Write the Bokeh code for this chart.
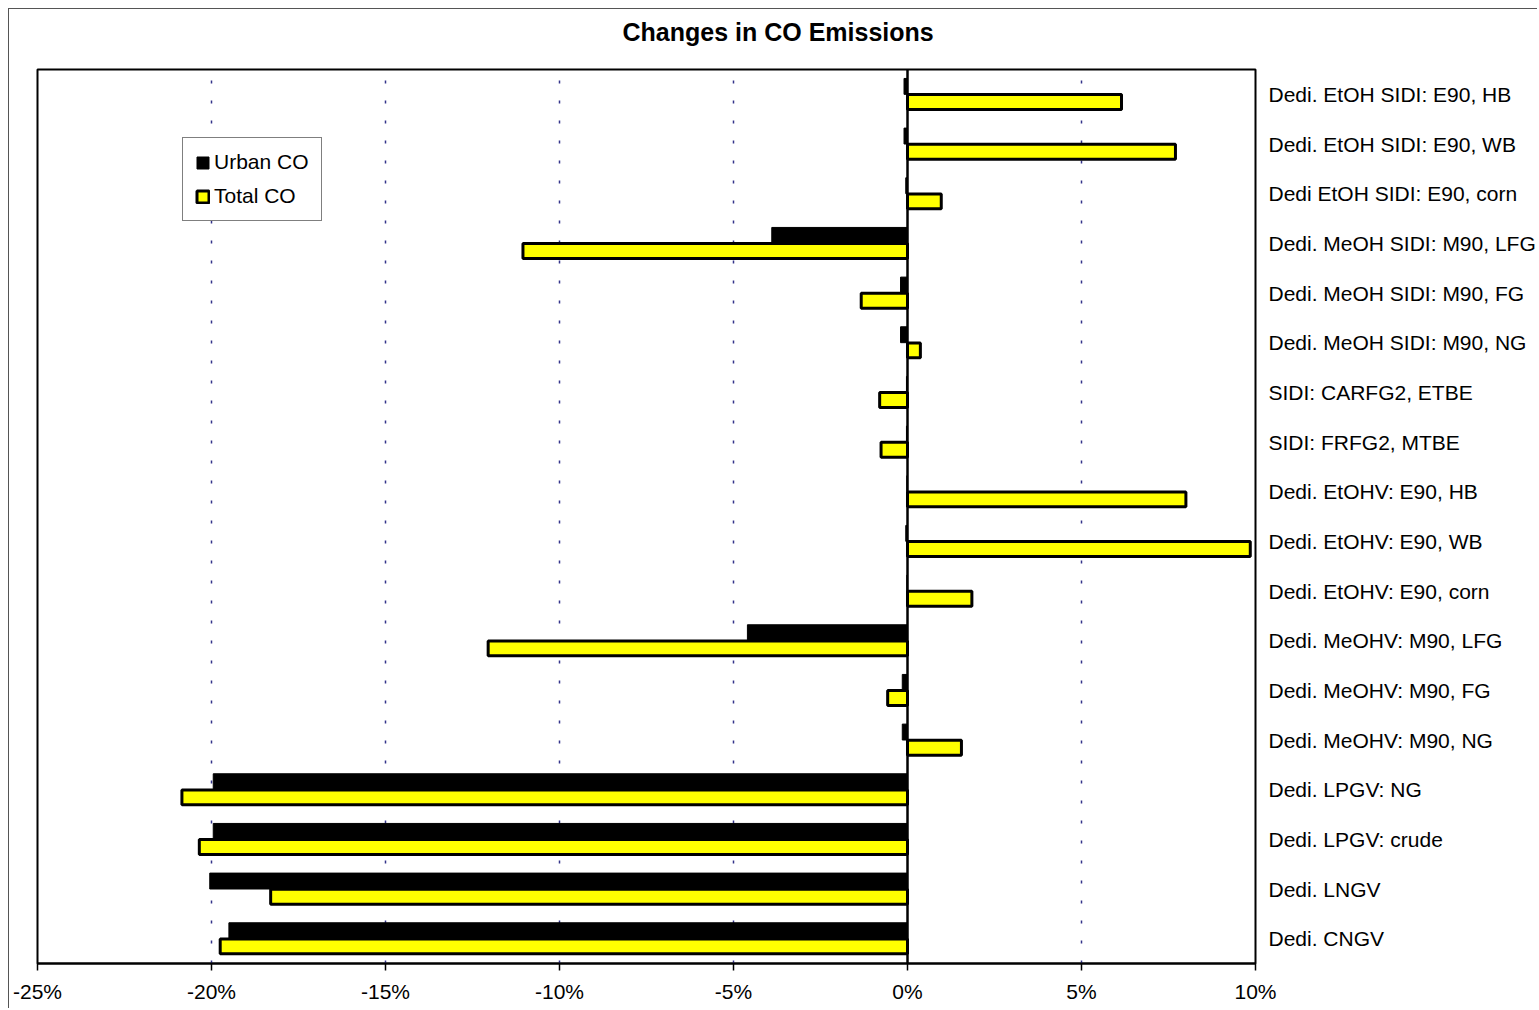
from bokeh.plotting import figure
from bokeh.models import (ColumnDataSource, FactorRange, Range1d, FixedTicker,
                          Span, Legend, LegendItem, Title)
from bokeh.transform import dodge
from bokeh.embed import file_html
from bokeh.resources import INLINE

# ---- data (top-to-bottom order as in the chart) ----
categories = [
    "Dedi. EtOH SIDI: E90, HB",
    "Dedi. EtOH SIDI: E90, WB",
    "Dedi EtOH SIDI: E90, corn",
    "Dedi. MeOH SIDI: M90, LFG",
    "Dedi. MeOH SIDI: M90, FG",
    "Dedi. MeOH SIDI: M90, NG",
    "SIDI: CARFG2, ETBE",
    "SIDI: FRFG2, MTBE",
    "Dedi. EtOHV: E90, HB",
    "Dedi. EtOHV: E90, WB",
    "Dedi. EtOHV: E90, corn",
    "Dedi. MeOHV: M90, LFG",
    "Dedi. MeOHV: M90, FG",
    "Dedi. MeOHV: M90, NG",
    "Dedi. LPGV: NG",
    "Dedi. LPGV: crude",
    "Dedi. LNGV",
    "Dedi. CNGV",
]
urban_co = [-0.10, -0.10, -0.05, -3.90, -0.20, -0.20, -0.03, -0.03, -0.02,
            -0.05, -0.02, -4.60, -0.15, -0.15, -19.95, -19.95, -20.05, -19.50]
total_co = [6.15, 7.70, 0.97, -11.05, -1.33, 0.37, -0.80, -0.76, 8.00,
            9.85, 1.85, -12.05, -0.57, 1.55, -20.85, -20.35, -18.30, -19.75]

x_ticks = [-25, -20, -15, -10, -5, 0, 5, 10]
x_tick_labels = ["-25%", "-20%", "-15%", "-10%", "-5%", "0%", "5%", "10%"]
grid_ticks = [-20, -15, -10, -5, 5]

series_names = ["Urban CO", "Total CO"]
title_text = "Changes in CO Emissions"

FONT = "Liberation Sans"

src = ColumnDataSource(dict(cat=categories, urban=urban_co, total=total_co))

p = figure(width=1529, height=1000,
           y_range=FactorRange(factors=list(reversed(categories))),
           x_range=Range1d(-25, 10),
           y_axis_location="right",
           output_backend="svg", toolbar_location=None,
           min_border_left=28, min_border_right=280,
           min_border_top=60, min_border_bottom=46)

p.background_fill_color = "white"
p.border_fill_color = "white"
p.outline_line_color = "black"
p.outline_line_width = 2
p.outline_line_alpha = 1.0
p.styles = {"margin-left": "8px", "margin-top": "8px",
            "border-left": "1px solid #555555",
            "border-top": "1px solid #555555"}

# title (outermost) with a thin spacer panel between it and the frame
p.title = Title(text=title_text, align="left", offset=585,
                vertical_align="top", standoff=0,
                text_font=FONT, text_font_size="25px",
                text_font_style="bold", text_color="black")
p.add_layout(Title(text=" ", text_font_size="1px", standoff=19), "above")

# grid
p.ygrid.grid_line_color = None
p.xgrid.ticker = FixedTicker(ticks=grid_ticks)
p.xgrid.grid_line_color = "#33338a"
p.xgrid.grid_line_dash = "3 17"
p.xgrid.grid_line_width = 1.5

# bars
r_urban = p.hbar(y=dodge("cat", 0.16, range=p.y_range), left=0, right="urban",
                 height=0.32, source=src, fill_color="black",
                 line_color="black", line_width=1)
r_total = p.hbar(y=dodge("cat", -0.155, range=p.y_range), left=0, right="total",
                 height=0.30, source=src, fill_color="#FFFF00",
                 line_color="black", line_width=3)

p.add_layout(Span(location=0, dimension="height", line_color="black",
                  line_width=2.5))

# x axis
xa = p.xaxis[0]
xa.ticker = FixedTicker(ticks=x_ticks)
xa.major_label_overrides = dict(zip(x_ticks, x_tick_labels))
xa.axis_line_color = "black"
xa.axis_line_width = 2
xa.major_tick_out = 7
xa.major_tick_in = 0
xa.major_tick_line_color = "black"
xa.major_tick_line_width = 1.5
xa.minor_tick_line_color = None
xa.major_label_standoff = 9
xa.major_label_text_font = FONT
xa.major_label_text_font_size = "21px"
xa.major_label_text_color = "black"

# y axis (category labels on the right)
ya = p.yaxis[0]
ya.axis_line_color = None
ya.major_tick_line_color = None
ya.minor_tick_line_color = None
ya.major_tick_out = 0
ya.major_tick_in = 0
ya.major_label_standoff = 13
ya.major_label_text_font = FONT
ya.major_label_text_font_size = "21px"
ya.major_label_text_color = "black"

# legend
legend = Legend(items=[LegendItem(label=series_names[0], renderers=[r_urban]),
                       LegendItem(label=series_names[1], renderers=[r_total])],
                location=(145, 742))
legend.label_text_font = FONT
legend.label_text_font_size = "21px"
legend.label_text_color = "black"
legend.label_height = 21
legend.glyph_height = 15
legend.glyph_width = 15
legend.label_standoff = 4
legend.spacing = 10
legend.padding = 12
legend.margin = 0
legend.border_line_color = "black"
legend.border_line_width = 1.5
legend.background_fill_color = "white"
legend.background_fill_alpha = 1.0
p.add_layout(legend)

open("out.html", "w").write(file_html(p, INLINE))
